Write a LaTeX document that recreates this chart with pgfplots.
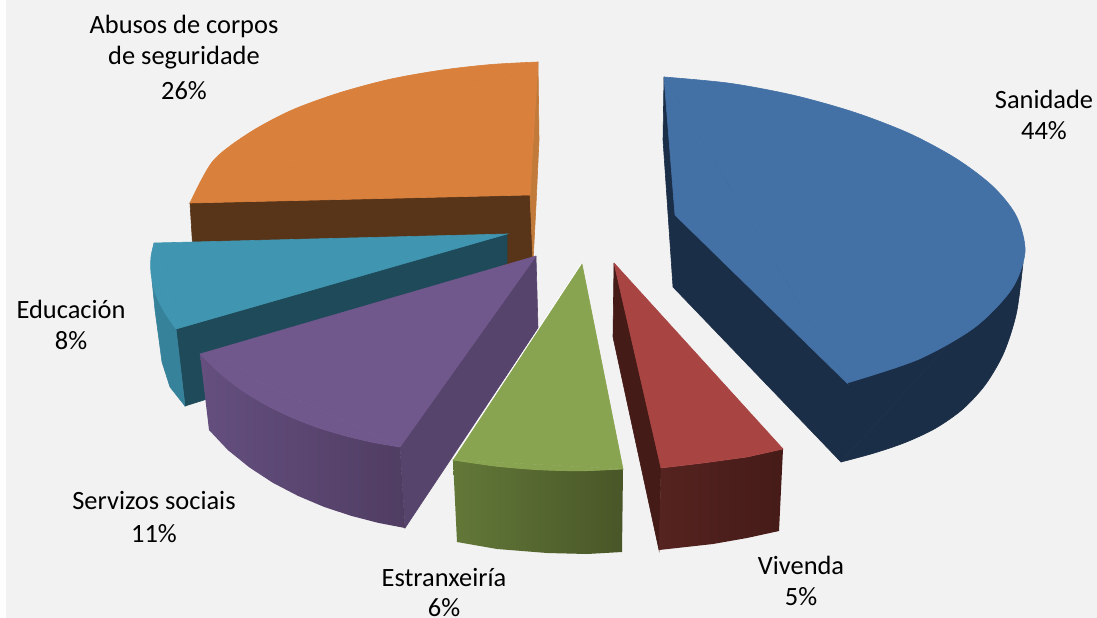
\documentclass[border=0pt]{standalone}
\usepackage{pgfplots}
\pgfplotsset{compat=1.18}
\usepackage{fontspec}
\setmainfont{Carlito}
\definecolor{bg}{HTML}{F2F2F2}
\definecolor{strip}{HTML}{FEFEFE}
\definecolor{blueT}{HTML}{4371A6}
\definecolor{blueD}{HTML}{1B2E47}
\definecolor{redT}{HTML}{A84442}
\definecolor{redD}{HTML}{451B18}
\definecolor{redL}{HTML}{552320}
\definecolor{greenT}{HTML}{89A450}
\definecolor{greenL}{HTML}{627838}
\definecolor{greenR}{HTML}{495628}
\definecolor{purT}{HTML}{70578C}
\definecolor{purD}{HTML}{56446C}
\definecolor{purL}{HTML}{644F7F}
\definecolor{purR}{HTML}{503D62}
\definecolor{tealT}{HTML}{4095B0}
\definecolor{tealD}{HTML}{1F4A5A}
\definecolor{tealO}{HTML}{37829B}
\definecolor{orT}{HTML}{D8803C}
\definecolor{orD}{HTML}{583418}
\definecolor{orS}{HTML}{C27A3A}
\begin{document}
\begin{tikzpicture}
\begin{axis}[
  scale only axis, width=1097bp, height=618bp,
  xmin=0, xmax=1097, ymin=0, ymax=618, y dir=reverse,
  hide axis, clip=true,
  every axis plot/.append style={line width=0.6pt},
]
% background
\addplot[fill=strip, draw=none] coordinates {(0,0) (6,0) (6,618) (0,618)};
\addplot[fill=bg, draw=none] coordinates {(6,0) (1097,0) (1097,618) (6,618)};
% Abusos de corpos de seguridade 26%
\addplot[fill=orD, draw=orD] coordinates {(190,203) (530,195) (533,262) (196,300) (190,203)};
\addplot[fill=orS, draw=orS] coordinates {(538,62) (539,140) (536,205) (533,262) (530,195) (538,62)};
\addplot[fill=orT, draw=orT] coordinates {(538,62) (530,195) (190,203) (538,62)};
\addplot[fill=orT, draw=orT, smooth] coordinates {(190,203) (213,161) (249,133) (291,110.5) (338.5,93.1) (389.2,79.4) (440.9,70.2) (491.2,64.5) (538,62)};
% Educacion 8%
\addplot[fill=tealD, draw=tealD] coordinates {(507,234) (507,263) (204,400) (185,406) (176,329) (507,234)};
\addplot[fill=tealO, draw=tealO] coordinates {(152,280) (155,310) (162,362) (170,387) (185,406) (176,329) (152,280)};
\addplot[fill=tealT, draw=tealT] coordinates {(154,243) (507,234) (176,329) (154,243)};
\addplot[fill=tealT, draw=tealT, smooth] coordinates {(154,243) (151,257) (151,273) (155,293) (165,313) (176,329)};
% Servizos sociais 11%
\addplot[fill=purD, draw=purD] coordinates {(536,256) (538,328) (405,528) (400,447) (536,256)};
\addplot[left color=purL, right color=purR, draw=none] coordinates {(200,354) (209,430) (227.7,449.9) (249.2,467.3) (272.7,482.7) (298,495.9) (324.3,507) (351.4,515.9) (378.4,522.9) (405,528) (400,447) (373.4,442.5) (346.3,436.1) (319,428) (292.5,417.8) (266.8,405.4) (242.5,390.8) (220.1,373.6)};
\addplot[fill=purT, draw=purT] coordinates {(536,256) (200,354) (400,447) (536,256)};
\addplot[fill=purT, draw=purT, smooth] coordinates {(200,354) (220.1,373.6) (242.5,390.8) (266.8,405.4) (292.5,417.8) (319,428) (346.3,436.1) (373.4,442.5) (400,447)};
% Estranxeiria 6%
\addplot[left color=greenL, right color=greenR, draw=none] coordinates {(453,460) (457,542) (497,549) (547,553) (587,554) (622,552) (623,469) (582.1,470.8) (539.5,469.8) (496.1,466.2)};
\addplot[fill=greenT, draw=greenT] coordinates {(582,264) (623,469) (453,460) (582,264)};
\addplot[fill=greenT, draw=greenT, smooth] coordinates {(453,460) (496.1,466.2) (539.5,469.8) (582.1,470.8) (623,469)};
\addplot[draw=white!85!bg, line width=0.8pt] coordinates {(581,264) (453,459)};
% Vivenda 5%
\addplot[fill=redD, draw=redD] coordinates {(614,263) (613,337) (659,550) (661,468) (614,263)};
\addplot[left color=redL, right color=redD, draw=none] coordinates {(661,468) (659,550) (713,544) (747,538) (779,531) (783,449) (747,457) (703,463)};
\addplot[fill=redT, draw=redT] coordinates {(614,263) (783,449) (747,457) (703,463) (661,468) (614,263)};
% Sanidade 44%
\addplot[fill=blueD, draw=blueD] coordinates {(664,77) (663,140) (673,287) (841,462) (1023,263) (664,77)};
\addplot[fill=blueD, draw=blueD, smooth] coordinates {(841,462) (874,453.1) (905.9,442.2) (935.6,428.2) (962.4,409.4) (985.3,384.7) (1003.7,353) (1016.5,312.8) (1023,263)};
\addplot[fill=blueT, draw=blueT] coordinates {(664,77) (675,215) (847,383) (664,77)};
\addplot[fill=blueT, draw=blueT, smooth] coordinates {(664,77) (730,83.3) (794.6,95.5) (855.6,112.7) (910.5,134) (957.2,159.3) (993.5,187) (1016.6,216.6) (1025,252) (1011.6,289.2) (974.6,327.4) (918.3,359.4) (847,383)};
% labels
\begin{scope}[every node/.style={overlay, text=black, anchor=center, inner sep=0pt, font=\fontsize{26.5}{32}\selectfont}]
\node at (axis cs:184,26) {Abusos de corpos};
\node at (axis cs:184,58) {de seguridade};
\node at (axis cs:184,91) {26\%};
\node at (axis cs:1044,99) {Sanidade};
\node at (axis cs:1044,131) {44\%};
\node at (axis cs:71,309) {Educación};
\node at (axis cs:71,341) {8\%};
\node at (axis cs:154,501) {Servizos sociais};
\node at (axis cs:154,534) {11\%};
\node at (axis cs:444,578) {Estranxeiría};
\node at (axis cs:444,608) {6\%};
\node at (axis cs:801,565) {Vivenda};
\node at (axis cs:801,597) {5\%};
\end{scope}
\end{axis}
\end{tikzpicture}
\end{document}
